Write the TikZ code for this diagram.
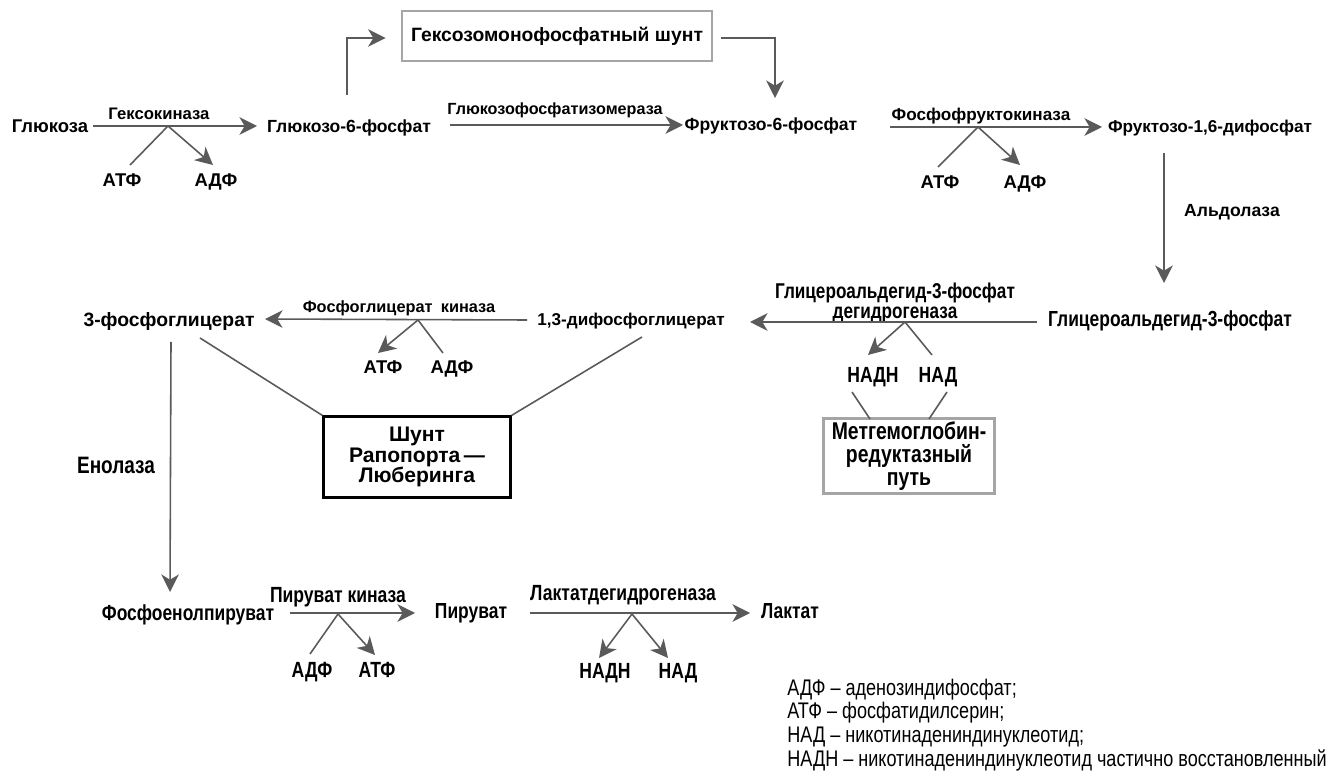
\documentclass[tikz,border=0pt]{standalone}
\usepackage{fontspec}
\setmainfont{Liberation Sans}
\newfontfamily\narrowfont[FakeStretch=0.8]{Liberation Sans}
\usetikzlibrary{arrows.meta, positioning, calc}
\definecolor{linegray}{RGB}{90,90,90}
\definecolor{boxgray}{RGB}{165,165,165}

\tikzset{
  met/.style={font=\bfseries\fontsize{10}{11}\selectfont, inner sep=2pt, text height=7.5pt, text depth=2pt},
  metn/.style={font=\narrowfont\bfseries\fontsize{12.4}{13}\selectfont, inner sep=2pt, text height=9pt, text depth=2.5pt},
  enz/.style={font=\bfseries\fontsize{9.5}{11}\selectfont, inner sep=1pt, text height=7pt, text depth=2pt},
  enzn/.style={font=\narrowfont\bfseries\fontsize{12.5}{11.5}\selectfont, inner sep=1pt, align=center},
  cof/.style={font=\bfseries\fontsize{10.5}{12}\selectfont, inner sep=1pt, text height=7.5pt, text depth=2pt},
  cofn/.style={font=\narrowfont\bfseries\fontsize{12.5}{14}\selectfont, inner sep=1pt, text height=9pt, text depth=2.5pt},
  leg/.style={font=\narrowfont\fontsize{12.85}{13}\selectfont, inner sep=0pt, text height=9pt, text depth=4pt},
  arr/.style={draw=linegray, line width=0.9pt, -{Stealth[length=10pt,width=10pt,inset=3pt]}},
  ln/.style={draw=linegray, line width=0.9pt},
  graybox/.style={draw=boxgray, line width=1.6pt, inner sep=2pt},
  shuntbox/.style={draw=black, line width=1.2pt, align=center,
    font=\bfseries\fontsize{12}{11.5}\selectfont}
}

\begin{document}
\begin{tikzpicture}[x=0.02cm, y=-0.02cm]
  \fill[white] (0,0) rectangle (1330,780);

  % upper row
  \node[met, font=\bfseries\fontsize{10.5}{11}\selectfont] (glc) at (50,128) {Глюкоза};
  \node[met] (g6p) at (349,128) {Глюкозо-6-фосфат};
  \node[met] (f6p) at (771,126) {Фруктозо-6-фосфат};
  \node[met, font=\bfseries\fontsize{9.75}{11}\selectfont] (f16) at (1210,128) {Фруктозо-1,6-дифосфат};
  \node[graybox, minimum width=6.2cm, minimum height=1cm,
    font=\bfseries\fontsize{11}{12}\selectfont] (hmp) at (557,36) {Гексозомонофосфатный шунт\hspace{6pt}};

  \node[enz] (hkl) at (159,115) {Гексокиназа};
  \node[enz, font=\bfseries\fontsize{9.2}{11}\selectfont] (gpil) at (555,110) {Глюкозофосфатизомераза};
  \node[enz, font=\bfseries\fontsize{9.75}{11}\selectfont] (pfkl) at (981,116) {Фосфофруктокиназа};
  \node[enz, font=\bfseries\fontsize{10}{11}\selectfont] (aldl) at (1232,212) {Альдолаза};

  \node[cof] (atf1) at (122,182) {АТФ};
  \node[cof] (adf1) at (216,182) {АДФ};
  \node[cof] (atf2) at (940,184) {АТФ};
  \node[cof] (adf2) at (1025,184) {АДФ};

  \coordinate (hkb) at (168,126);
  \coordinate (pfkb) at (978,127);

  \draw[arr] ($(glc)+(43,-2)$) -- ($(g6p)+(-92,-2)$);
  \draw[ln] ($(atf1)+(8,-17)$) -- (hkb);
  \draw[arr] (hkb) -- ($(adf1)+(-3,-17)$);
  \draw[arr] ($(g6p)+(-2,-33)$) |- ($(hmp.west)+(-15,2)$);
  \draw[arr] ($(hmp.east)+(8,2)$) -| ($(f6p)+(4,-28)$);
  \draw[arr] ($(g6p)+(101,-3)$) -- ($(f6p)+(-88,-1)$);
  \draw[arr] ($(f6p)+(119,1)$) -- ($(f16)+(-108,-1)$);
  \draw[ln] ($(atf2)+(-2,-17)$) -- (pfkb);
  \draw[arr] (pfkb) -- ($(adf2)+(-5,-19)$);

  % middle row
  \node[metn] (gap) at (1170,321) {Глицероальдегид-3-фосфат};
  \node[met, font=\bfseries\fontsize{9.75}{11}\selectfont] (bpg) at (631,321) {1,3-дифосфоглицерат};
  \node[met, font=\bfseries\fontsize{11}{12}\selectfont] (pg3) at (169,322) {3-фосфоглицерат};

  \node[enzn, font=\narrowfont\bfseries\fontsize{12.2}{11.5}\selectfont] (gapdhl) at (895,303) {Глицероальдегид-3-фосфат\\дегидрогеназа};
  \node[enz, font=\bfseries\fontsize{9.3}{10}\selectfont] (pgkl) at (399,308) {Фосфоглицерат\enspace киназа};
  \node[enzn, font=\narrowfont\bfseries\fontsize{13.5}{14}\selectfont] (enol) at (116,465) {Енолаза};

  \node[cofn] (nadh1) at (873,377) {НАДН};
  \node[cofn] (nad1) at (938,377) {НАД};
  \node[cof] (atf3) at (383,369) {АТФ};
  \node[cof] (adf3) at (452,369) {АДФ};

  \node[graybox, minimum width=3.42cm, minimum height=1.48cm, align=center,
    font=\narrowfont\bfseries\fontsize{13.8}{13}\selectfont] (methb) at (909,456)
    {Метгемоглобин-\\редуктазный\\путь};
  \node[shuntbox, minimum width=3.74cm, minimum height=1.62cm] (rl) at (417,457)
    {Шунт\\Рапопорта\,—\\Люберинга};

  \coordinate (gapdhb) at (905,322);
  \coordinate (pgkb) at (418,320);

  \draw[arr] ($(gap)+(-133,1)$) -- ($(bpg)+(119,1)$);
  \draw[arr] (gapdhb) -- ($(nadh1)+(-5,-22)$);
  \draw[ln] ($(nad1)+(-6,-22)$) -- (gapdhb);
  \draw[ln] ($(nadh1)+(-21,15)$) -- ($(methb)+(-39,-37)$);
  \draw[ln] ($(nad1)+(9,15)$) -- ($(methb)+(20,-37)$);
  \draw[arr] ($(f16)+(-46,25)$) -- ($(gap)+(-6,-38)$);

  \draw[arr] ($(bpg)+(-104,-1)$) -- ($(pg3)+(96,-3)$);
  \draw[arr] (pgkb) -- ($(atf3)+(-5,-16)$);
  \draw[ln] ($(adf3)+(-9,-16)$) -- (pgkb);
  \draw[ln] ($(pg3)+(31,16)$) -- (rl.north west);
  \draw[ln] ($(bpg)+(11,16)$) -- (rl.north east);

  % lower row
  \node[metn] (pep) at (188,615) {Фосфоенолпируват};
  \node[metn] (pyr) at (471,613) {Пируват};
  \node[metn] (lac) at (790,613) {Лактат};
  \node[enzn] (pkl) at (338,597) {Пируват киназа};
  \node[enzn] (ldhl) at (623,595) {Лактатдегидрогеназа};

  \node[cofn] (adf4) at (312,672) {АДФ};
  \node[cofn] (atf4) at (377,672) {АТФ};
  \node[cofn] (nadh2) at (605,673) {НАДН};
  \node[cofn] (nad2) at (678,673) {НАД};

  \coordinate (pkb) at (338,614);
  \coordinate (ldhb) at (632,614);

  \draw[arr] ($(pg3)+(2,20)$) -- ($(pep)+(-18,-23)$);
  \draw[arr] ($(pep)+(102,-2)$) -- ($(pyr)+(-56,0)$);
  \draw[ln] ($(adf4)+(-2,-18)$) -- (pkb);
  \draw[arr] (pkb) -- ($(atf4)+(-2,-17)$);
  \draw[arr] ($(pyr)+(59,0)$) -- ($(lac)+(-40,0)$);
  \draw[arr] (ldhb) -- ($(nadh2)+(-6,-15)$);
  \draw[arr] (ldhb) -- ($(nad2)+(-10,-15)$);

  % legend
  \node[leg, anchor=west] (leg1) at (787,691) {АДФ – аденозиндифосфат;};
  \node[leg, below=0pt of leg1.south west, anchor=north west] (leg2) {АТФ – фосфатидилсерин;};
  \node[leg, below=0pt of leg2.south west, anchor=north west] (leg3) {НАД – никотинадениндинуклеотид;};
  \node[leg, below=0pt of leg3.south west, anchor=north west] (leg4) {НАДН – никотинадениндинуклеотид частично восстановленный};
\end{tikzpicture}
\end{document}
